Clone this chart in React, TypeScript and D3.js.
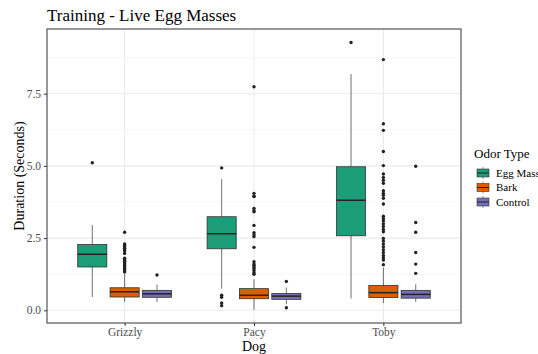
import React, { useRef, useEffect } from "react";
import * as d3 from "d3";

// categories
const dogs = ["Grizzly", "Pacy", "Toby"];
const odors = ["Egg Mass", "Bark", "Control"];
const odorColors = ["#1B9E77", "#D95F02", "#7570B3"];
const yTicks = [0, 2.5, 5, 7.5];
const yMinor = [1.25, 3.75, 6.25, 8.75];

// box stats per dog, one row per odor: [lower whisker, q1, median, q3, upper whisker]
const grizzlyStats = [
  [0.46, 1.5, 1.94, 2.28, 2.95],
  [0.29, 0.46, 0.64, 0.78, 1.28],
  [0.29, 0.45, 0.57, 0.69, 0.89],
];
const pacyStats = [
  [0.75, 2.13, 2.65, 3.24, 4.54],
  [0.02, 0.4, 0.52, 0.75, 1.07],
  [0.21, 0.38, 0.49, 0.58, 0.79],
];
const tobyStats = [
  [0.41, 2.58, 3.81, 4.97, 8.18],
  [0.25, 0.44, 0.61, 0.86, 1.48],
  [0.29, 0.42, 0.55, 0.69, 0.9],
];

// outliers
const grizzlyOutliers = [
  [5.11],
  [2.7, 2.3, 2.25, 2.2, 2.15, 2.1, 2.05, 1.97, 1.8, 1.75, 1.7, 1.65, 1.6, 1.55, 1.5, 1.45, 1.4, 1.36, 1.33],
  [1.22],
];
const pacyOutliers = [
  [4.93, 0.52, 0.45, 0.25, 0.16],
  [7.74, 4.05, 3.95, 3.94, 3.53, 3.45, 3.41, 2.94, 2.69, 2.62, 2.55, 2.18, 1.68, 1.6, 1.55, 1.5, 1.45, 1.38, 1.3, 1.25],
  [1.0, 0.09],
];
const tobyOutliers = [
  [9.27],
  [8.68, 6.46, 6.23, 5.5, 5.01, 4.72, 4.6, 4.5, 4.4, 4.14, 4.05, 3.98, 3.88, 3.68, 3.26, 3.18, 3.1, 3.0, 2.9, 2.8, 2.72,
    2.49, 2.4, 2.3, 2.2, 2.1, 2.0, 1.9, 1.82, 1.74, 1.58],
  [4.99, 3.04, 2.7, 2.0, 1.6, 1.28],
];

const allStats = [grizzlyStats, pacyStats, tobyStats];
const allOutliers = [grizzlyOutliers, pacyOutliers, tobyOutliers];

const width = 538;
const height = 354;
const panel = { left: 47, right: 461, top: 29, bottom: 323 };

export default function App() {
  const svgRef = useRef<SVGSVGElement>(null);

  useEffect(() => {
    const svg = d3.select(svgRef.current);
    svg.selectAll("*").remove();
    const serif = "Liberation Serif";

    const x = d3.scalePoint().domain(dogs).range([panel.left, panel.right]).padding(0.6);
    const step = x.step();
    const dodge = d3.scaleBand().domain(odors).range([-0.375 * step, 0.375 * step]);
    const boxW = 0.225 * step;
    const y = d3.scaleLinear().domain([-0.44, 9.74]).range([panel.bottom, panel.top]);

    // panel grid
    const grid = svg.append("g");
    yMinor.forEach((v) =>
      grid.append("line").attr("x1", panel.left).attr("x2", panel.right)
        .attr("y1", y(v)).attr("y2", y(v)).attr("stroke", "#f2f2f2").attr("stroke-width", 0.6)
    );
    yTicks.forEach((v) =>
      grid.append("line").attr("x1", panel.left).attr("x2", panel.right)
        .attr("y1", y(v)).attr("y2", y(v)).attr("stroke", "#ebebeb").attr("stroke-width", 1.1)
    );
    dogs.forEach((d) =>
      grid.append("line").attr("x1", x(d)!).attr("x2", x(d)!)
        .attr("y1", panel.top).attr("y2", panel.bottom).attr("stroke", "#ebebeb").attr("stroke-width", 1.1)
    );

    // boxes
    dogs.forEach((dog, di) => {
      odors.forEach((odor, oi) => {
        const [lo, q1, med, q3, hi] = allStats[di][oi];
        const cx = x(dog)! + dodge(odor)! + dodge.bandwidth() / 2;
        const g = svg.append("g");
        g.append("line").attr("x1", cx).attr("x2", cx).attr("y1", y(hi)).attr("y2", y(q3))
          .attr("stroke", "#4d4d4d").attr("stroke-width", 0.8);
        g.append("line").attr("x1", cx).attr("x2", cx).attr("y1", y(q1)).attr("y2", y(lo))
          .attr("stroke", "#4d4d4d").attr("stroke-width", 0.8);
        g.append("rect").attr("x", cx - boxW / 2).attr("width", boxW)
          .attr("y", y(q3)).attr("height", y(q1) - y(q3))
          .attr("fill", odorColors[oi]).attr("stroke", "#333").attr("stroke-width", 0.8);
        g.append("line").attr("x1", cx - boxW / 2).attr("x2", cx + boxW / 2)
          .attr("y1", y(med)).attr("y2", y(med)).attr("stroke", "#222").attr("stroke-width", 1.5);
        g.selectAll("circle").data(allOutliers[di][oi]).join("circle")
          .attr("cx", cx).attr("cy", (v) => y(v)).attr("r", 1.7).attr("fill", "#222");
      });
    });

    // panel border
    svg.append("rect").attr("x", panel.left).attr("y", panel.top)
      .attr("width", panel.right - panel.left).attr("height", panel.bottom - panel.top)
      .attr("fill", "none").attr("stroke", "#333").attr("stroke-width", 1);

    // axes
    const yAxis = svg.append("g").attr("transform", `translate(${panel.left},0)`)
      .call(d3.axisLeft(y).tickValues(yTicks).tickFormat(d3.format(".1f")).tickSize(3).tickPadding(3));
    const xAxis = svg.append("g").attr("transform", `translate(0,${panel.bottom})`)
      .call(d3.axisBottom(x).tickSize(3).tickPadding(2));
    [yAxis, xAxis].forEach((a) => {
      a.attr("font-family", serif).attr("font-size", 11.5);
      a.select(".domain").remove();
      a.selectAll("line").attr("stroke", "#333");
      a.selectAll("text").attr("fill", "#4d4d4d");
    });

    svg.append("text").attr("x", panel.left).attr("y", 21).text("Training - Live Egg Masses")
      .attr("font-family", serif).attr("font-size", 17);
    svg.append("text").attr("x", (panel.left + panel.right) / 2).attr("y", 351).text("Dog")
      .attr("font-family", serif).attr("font-size", 14).attr("text-anchor", "middle");
    svg.append("text").attr("transform", `translate(24,${(panel.top + panel.bottom) / 2}) rotate(-90)`)
      .text("Duration (Seconds)").attr("font-family", serif).attr("font-size", 14).attr("text-anchor", "middle");

    // legend
    const lg = svg.append("g").attr("transform", "translate(474,0)");
    lg.append("text").attr("x", 0).attr("y", 158).text("Odor Type")
      .attr("font-family", serif).attr("font-size", 13);
    odors.forEach((o, i) => {
      const cy = 173 + i * 14.5;
      const k = lg.append("g");
      k.append("line").attr("x1", 9).attr("x2", 9).attr("y1", cy - 6).attr("y2", cy + 6)
        .attr("stroke", "#4d4d4d").attr("stroke-width", 0.6);
      k.append("rect").attr("x", 3).attr("y", cy - 4).attr("width", 12).attr("height", 8)
        .attr("fill", odorColors[i]).attr("stroke", "#333").attr("stroke-width", 0.6);
      k.append("line").attr("x1", 3).attr("x2", 15).attr("y1", cy).attr("y2", cy)
        .attr("stroke", "#222").attr("stroke-width", 1);
      lg.append("text").attr("x", 22).attr("y", cy + 3.8).text(o)
        .attr("font-family", serif).attr("font-size", 11);
    });
  }, []);

  return (
    <svg ref={svgRef} width={width} height={height}
      style={{ position: "absolute", left: 0, top: 0, background: "#fff" }} />
  );
}
